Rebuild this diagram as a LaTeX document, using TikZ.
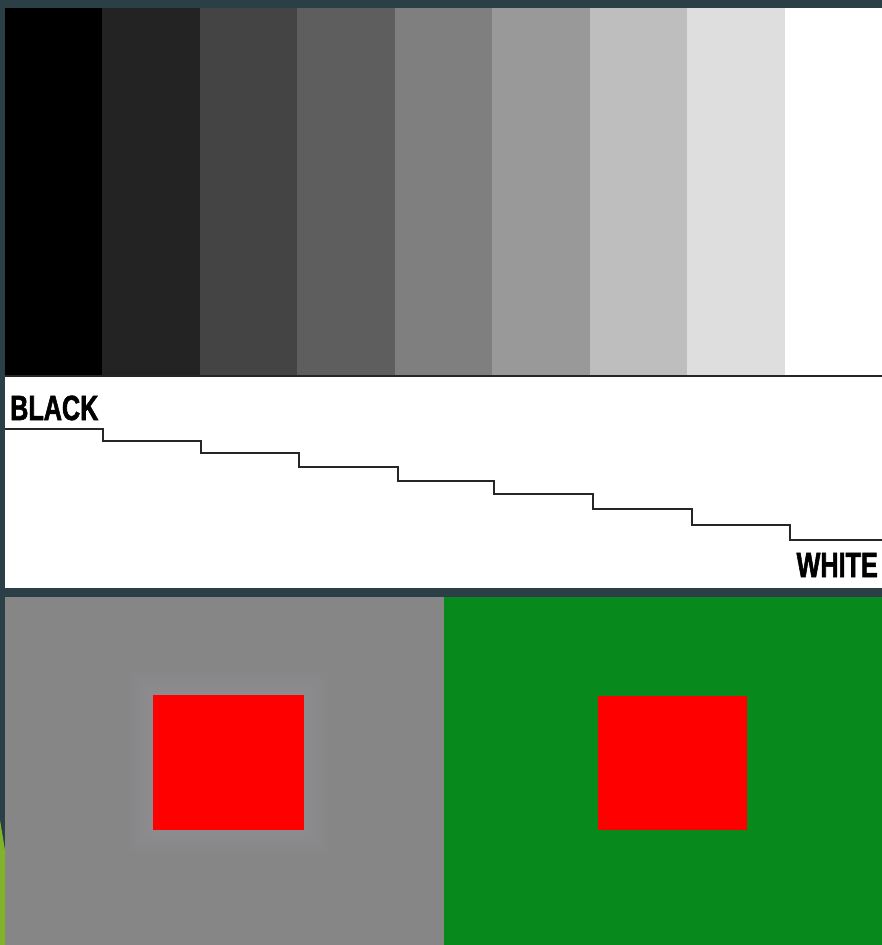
\documentclass[tikz,border=0pt]{standalone}
\usepackage{fontspec}
\newfontfamily\labelfont[FakeStretch=0.72,FakeBold=1.6]{Liberation Sans Bold}
\definecolor{bgdark}{HTML}{2C3E46}
\definecolor{sA}{HTML}{000000}
\definecolor{sB}{HTML}{232323}
\definecolor{sC}{HTML}{444444}
\definecolor{sD}{HTML}{5E5E5E}
\definecolor{sE}{HTML}{7F7F7F}
\definecolor{sF}{HTML}{999999}
\definecolor{sG}{HTML}{BEBEBE}
\definecolor{sH}{HTML}{DEDEDE}
\definecolor{sI}{HTML}{FFFFFF}
\definecolor{panelgray}{HTML}{868686}
\definecolor{halogray}{HTML}{9A9AA0}
\definecolor{panelgreen}{HTML}{07891B}
\definecolor{limeedge}{HTML}{80B22A}
\definecolor{sqred}{HTML}{FF0000}
\tikzset{
  stair/.style={draw=black!85, line width=2pt},
  caplabel/.style={font=\labelfont\fontsize{35}{35}\selectfont, inner sep=0pt, text=black},
}
\begin{document}
\begin{tikzpicture}[x=1pt,y=-1pt]
\useasboundingbox (0,0) rectangle (882,945);
\fill[bgdark] (0,0) rectangle (882,945);
% stripes
\foreach \c [count=\i from 0] in {sA,sB,sC,sD,sE,sF,sG,sH,sI}{
  \pgfmathsetmacro{\xa}{5+\i*97.44}
  \pgfmathsetmacro{\xb}{5+(\i+1)*97.44}
  \fill[\c] (\xa,8) rectangle (\xb,376);
}
% white panel
\fill[white] (5,376) rectangle (882,588);
\draw[black!85, line width=1.5pt] (5,376) -- (882,376);
% staircase
\coordinate (s0) at (5,429);
\coordinate (s9) at (882,540);
\draw[stair] (s0) -- (103,429) -- (103,441) -- (201,441) -- (201,453) -- (299,453) -- (299,467)
  -- (398,467) -- (398,481) -- (494,481) -- (494,494) -- (593,494) -- (593,509)
  -- (692,509) -- (692,525) -- (790,525) -- (790,540) -- (s9);
\node[caplabel, anchor=base west] (blk) at (10,420) {BLACK};
\node[caplabel, anchor=base east] (wht) at (878,577) {WHITE};
% bottom panels
\fill[panelgray] (5,597) rectangle (444,945);
\foreach \d in {24,20,16,12,8,4}{
  \fill[halogray, opacity=0.09, rounded corners=6pt] (153-\d,695-\d) rectangle (304+\d,830+\d);
}
\fill[panelgreen] (444,597) rectangle (882,945);
\fill[limeedge] (0,820) -- (5,850) -- (5,945) -- (0,945) -- cycle;
% red squares
\node[fill=sqred, draw=none, minimum width=151pt, minimum height=135pt, inner sep=0pt, anchor=north west] (redL) at (153,695) {};
\node[fill=sqred, draw=none, minimum width=149pt, minimum height=134pt, inner sep=0pt, anchor=north west] (redR) at (598,696) {};
\end{tikzpicture}
\end{document}
